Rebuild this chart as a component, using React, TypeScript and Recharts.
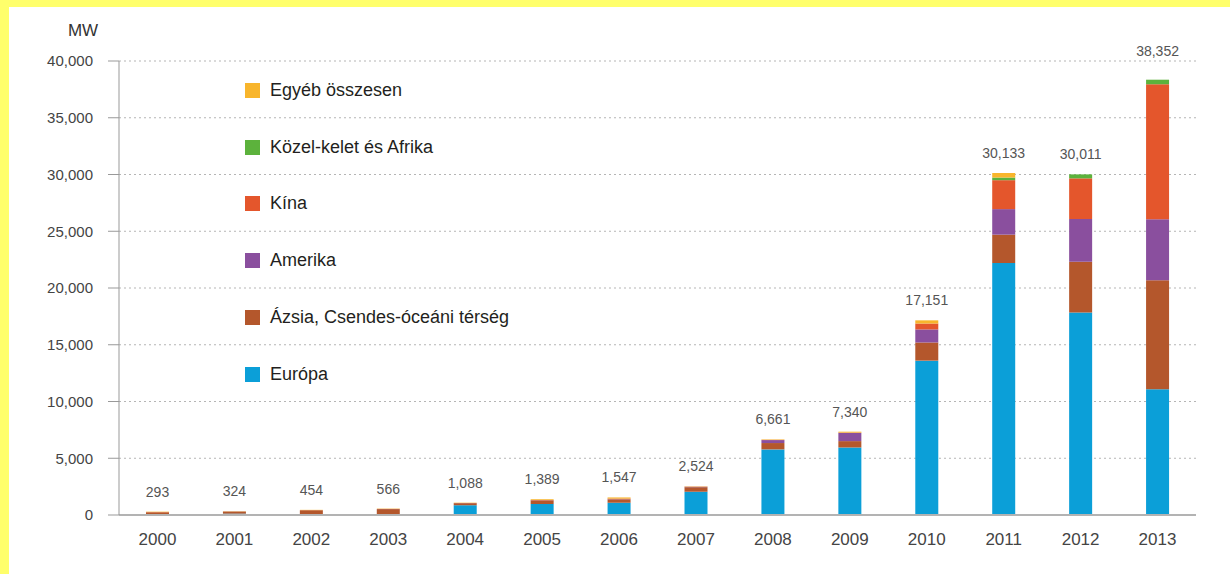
import React from 'react'
import { BarChart, Bar, XAxis, YAxis, CartesianGrid, Legend, LabelList } from 'recharts'

const years = ['2000', '2001', '2002', '2003', '2004', '2005', '2006', '2007', '2008', '2009', '2010', '2011', '2012', '2013']

// MW per region
const europa = [40, 120, 60, 80, 860, 970, 1080, 2050, 5780, 5950, 13600, 22200, 17831, 11072]
const azsia = [200, 190, 360, 440, 180, 320, 300, 400, 560, 560, 1600, 2500, 4490, 9620]
const amerika = [0, 0, 0, 10, 10, 10, 20, 30, 260, 720, 1150, 2250, 3760, 5370]
const kina = [20, 0, 10, 10, 10, 20, 47, 20, 20, 30, 520, 2550, 3580, 11890]
const kozelKelet = [0, 0, 0, 0, 0, 0, 0, 0, 0, 0, 0, 230, 350, 400]
const egyeb = [33, 14, 24, 26, 28, 69, 100, 24, 41, 80, 281, 403, 0, 0]

// printed totals above bars
const totals = [293, 324, 454, 566, 1088, 1389, 1547, 2524, 6661, 7340, 17151, 30133, 30011, 38352]

const yTicks = [0, 5000, 10000, 15000, 20000, 25000, 30000, 35000, 40000]

const series = [
  { key: 'europa', name: 'Európa', color: '#0b9fd8' },
  { key: 'azsia', name: 'Ázsia, Csendes-óceáni térség', color: '#b4572c' },
  { key: 'amerika', name: 'Amerika', color: '#8a4f9e' },
  { key: 'kina', name: 'Kína', color: '#e4562c' },
  { key: 'kozel', name: 'Közel-kelet és Afrika', color: '#5cb23c' },
  { key: 'egyeb', name: 'Egyéb összesen', color: '#f8b52c' },
]

const chartData = years.map((year, i) => ({
  year,
  europa: europa[i],
  azsia: azsia[i],
  amerika: amerika[i],
  kina: kina[i],
  kozel: kozelKelet[i],
  egyeb: egyeb[i],
}))

const font = '"Liberation Sans", Arial, sans-serif'
const fmt = (v: number) => v.toLocaleString('en-US')

const renderLegend = () => (
  <div style={{ fontFamily: font }}>
    {[...series].reverse().map(s => (
      <div key={s.key} style={{ display: 'flex', alignItems: 'center', height: 56.8 }}>
        <span style={{ width: 15, height: 15, background: s.color, display: 'inline-block', marginRight: 10 }} />
        <span style={{ fontSize: 18, color: '#231f20' }}>{s.name}</span>
      </div>
    ))}
  </div>
)

// label sits on the Európa segment (never empty); the stack top is found
// from that segment's own pixels-per-MW
const renderTotal = (props: any) => {
  const { x, y, width, height, index } = props
  const base = Number(y) + Number(height)
  const top = base - (totals[index] * Number(height)) / europa[index]
  const off = index === totals.length - 1 ? 29 : 20
  return (
    <text
      x={Number(x) + Number(width) / 2}
      y={top - off}
      textAnchor="middle"
      dominantBaseline="central"
      fontSize={14}
      fill="#555"
      fontFamily={font}
    >
      {fmt(totals[index])}
    </text>
  )
}

const renderUnit = (props: any) => {
  const vb = props.viewBox
  return (
    <text
      x={vb.x + vb.width - 36}
      y={vb.y - 31}
      textAnchor="middle"
      dominantBaseline="central"
      fontSize={17}
      fill="#333"
      fontFamily={font}
    >
      MW
    </text>
  )
}

export default function App() {
  return (
    <div style={{ position: 'fixed', left: 0, top: 0, width: 1230, height: 574, background: '#ffff6b' }}>
      <div style={{ position: 'absolute', left: 9, top: 7, width: 1221, height: 567, background: '#fff' }} />
      <div style={{ position: 'absolute', left: 0, top: 0 }}>
        <BarChart
          width={1230}
          height={574}
          data={chartData}
          margin={{ top: 61, right: 34, bottom: 29, left: 0 }}
          barSize={23}
        >
          <CartesianGrid vertical={false} stroke="#b5b5b5" strokeDasharray="2 3" />
          <XAxis
            dataKey="year"
            height={30}
            tickLine={false}
            tickMargin={12}
            axisLine={{ stroke: '#b3b3b3', strokeWidth: 2 }}
            tick={{ fontSize: 17, fill: '#444', fontFamily: font }}
          />
          <YAxis
            width={119}
            domain={[0, 40000]}
            ticks={yTicks}
            tickFormatter={fmt}
            tickSize={11}
            tickMargin={15}
            axisLine={{ stroke: '#999' }}
            tickLine={{ stroke: '#999' }}
            tick={{ fontSize: 15, fill: '#444', fontFamily: font }}
            label={{ content: renderUnit }}
          />
          <Legend
            layout="horizontal"
            verticalAlign="middle"
            align="center"
            content={renderLegend}
            wrapperStyle={{ left: 245, top: 62, width: 320 }}
          />
          {series.map((s, i) => (
            <Bar key={s.key} dataKey={s.key} name={s.name} stackId="a" fill={s.color} isAnimationActive={false}>
              {i === 0 && <LabelList dataKey="europa" content={renderTotal} />}
            </Bar>
          ))}
        </BarChart>
      </div>
    </div>
  )
}
